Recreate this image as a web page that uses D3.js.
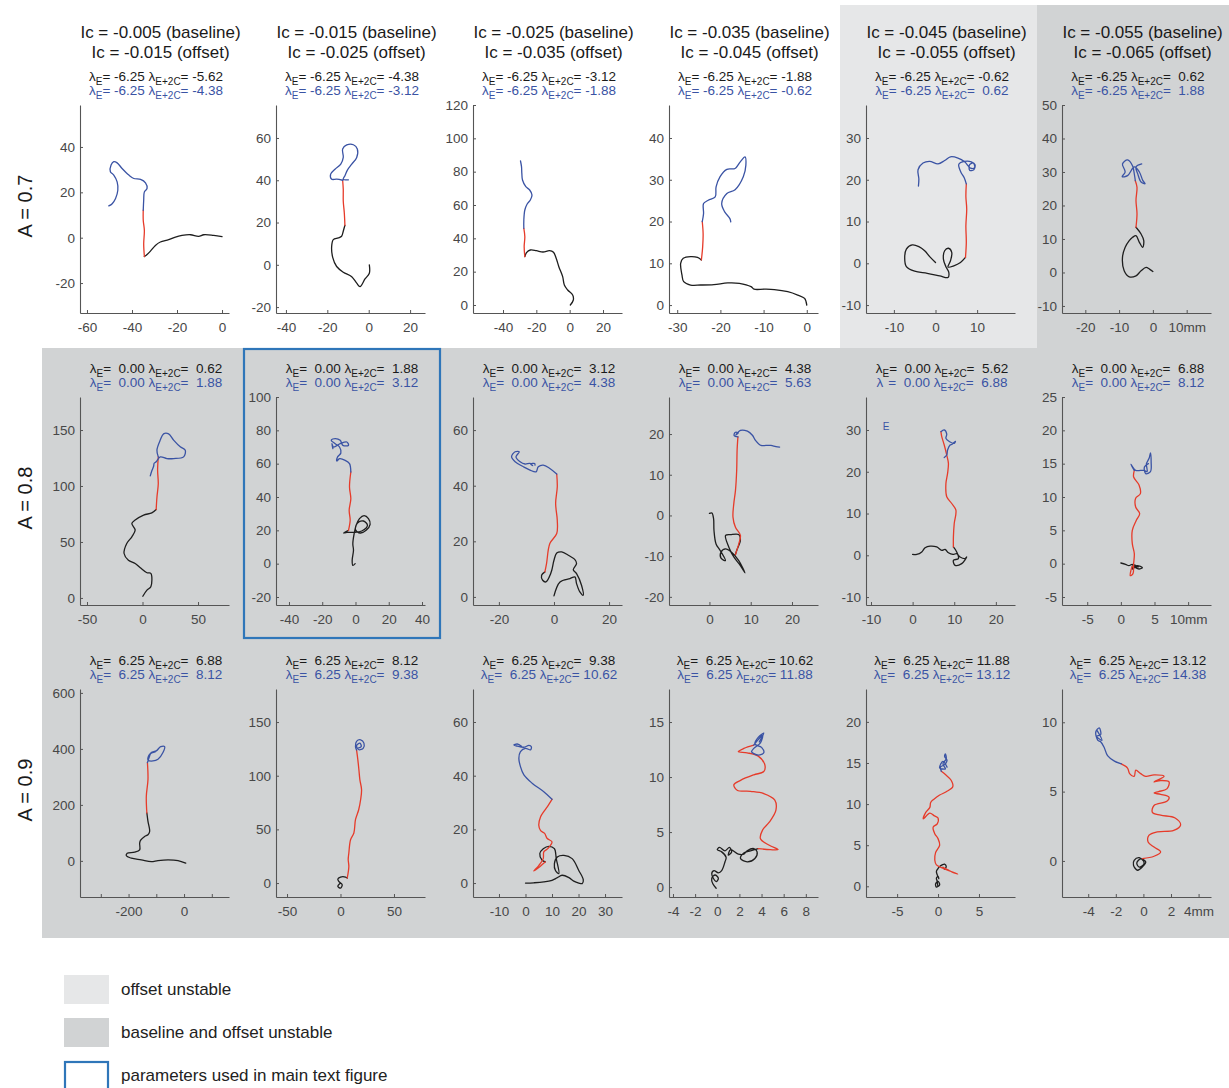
<!DOCTYPE html>
<html>
<head>
<meta charset="utf-8">
<script src="https://d3js.org/d3.v7.min.js"></script>
<style>
  body { margin: 0; background: #fff; }
  text { font-family: "Liberation Sans", Arial, Helvetica, sans-serif; }
</style>
</head>
<body>
<svg id="fig" width="1229" height="1088"></svg>
<script>
// ---- header / label data ----
const icBaseline = ["-0.005", "-0.015", "-0.025", "-0.035", "-0.045", "-0.055"];
const icOffset   = ["-0.015", "-0.025", "-0.035", "-0.045", "-0.055", "-0.065"];
const rowA = ["0.7", "0.8", "0.9"];
const lamE = [-6.25, 0.00, 6.25];
const lamBase = [[-5.62, -4.38, -3.12, -1.88, -0.62, 0.62],
                 [0.62, 1.88, 3.12, 4.38, 5.62, 6.88],
                 [6.88, 8.12, 9.38, 10.62, 11.88, 13.12]];
const lamOff  = [[-4.38, -3.12, -1.88, -0.62, 0.62, 1.88],
                 [1.88, 3.12, 4.38, 5.63, 6.88, 8.12],
                 [8.12, 9.38, 10.62, 11.88, 13.12, 14.38]];
// 0 = stable, 1 = offset unstable, 2 = baseline and offset unstable
const status = [[0, 0, 0, 0, 1, 2], [2, 2, 2, 2, 2, 2], [2, 2, 2, 2, 2, 2]];
const mainPanel = [1, 1];
const legendLabels = ["offset unstable", "baseline and offset unstable", "parameters used in main text figure"];

// ---- axis limits and ticks (mm) ----
const xLims = [[[-63.1, 3.1], [-44.8, 27.2], [-58, 31.4], [-31.9, 2.6], [-16.7, 19.1], [-26.9, 17.2]],
               [[-56.3, 77.9], [-47.8, 41.8], [-29.4, 24.7], [-9.8, 26.3], [-11.2, 24.6], [-8.75, 13.4]],
               [[-375, 162], [-60.3, 79], [-19.8, 36.4], [-4.36, 9.1], [-8.8, 9.4], [-5.9, 4.9]]];
const yLims = [[[-33.2, 58.5], [-22.8, 75.6], [-4.8, 120], [-1.9, 47.9], [-11.9, 37.9], [-12.1, 50]],
               [[-6.3, 179.5], [-24.8, 100], [-2.9, 71.9], [-22, 29.1], [-11.9, 37.9], [-6.2, 25]],
               [[-129, 614], [-13, 180.8], [-5.2, 72.3], [-0.9, 18], [-1.3, 24], [-2.6, 12.4]]];
const xTicks = [[[-60, -40, -20, 0], [-40, -20, 0, 20], [-40, -20, 0, 20], [-30, -20, -10, 0], [-10, 0, 10], [-20, -10, 0, 10]],
                [[-50, 0, 50], [-40, -20, 0, 20, 40], [-20, 0, 20], [0, 10, 20], [-10, 0, 10, 20], [-5, 0, 5, 10]],
                [[-300, -200, -100, 0, 100], [-50, 0, 50], [-10, 0, 10, 20, 30], [-4, -2, 0, 2, 4, 6, 8], [-5, 0, 5], [-4, -2, 0, 2, 4]]];
const xTicksUnlabelled = [-300, -100, 100]; // only in the A = 0.9, first column panel
const yTicks = [[[-20, 0, 20, 40], [-20, 0, 20, 40, 60], [0, 20, 40, 60, 80, 100, 120], [0, 10, 20, 30, 40], [-10, 0, 10, 20, 30], [-10, 0, 10, 20, 30, 40, 50]],
                [[0, 50, 100, 150], [-20, 0, 20, 40, 60, 80, 100], [0, 20, 40, 60], [-20, -10, 0, 10, 20], [-10, 0, 10, 20, 30], [-5, 0, 5, 10, 15, 20, 25]],
                [[0, 200, 400, 600], [0, 50, 100, 150], [0, 20, 40, 60], [0, 5, 10, 15], [0, 5, 10, 15, 20], [0, 5, 10]]];

// ---- trajectories [x, y] in mm: baseline (black), transition (red), offset (blue) ----
const r1c1_k = [[0,0.5],[-3.7,1],[-8.1,1.3],[-10.4,0.6],[-14,1.3],[-17.8,1],[-20.7,0.3],[-23.7,-0.9],[-27.4,-1.9],[-29.6,-3.4],[-31.8,-5.9],[-33.3,-7.4],[-34.5,-8.3]];
const r1c1_r = [[-34.5,-8.3],[-34.8,-2.7],[-34.5,3.2],[-35,7.7],[-35,12.1]];
const r1c1_b = [[-35,12.1],[-34.8,16.5],[-34.5,20.2],[-33.3,21.7],[-34,24.2],[-36.2,25.7],[-39.2,26.1],[-41.4,27.6],[-44.4,30.5],[-46.6,33],[-48.1,33.5],[-49.3,32],[-49.6,29.1],[-48.1,27.6],[-46.6,24.6],[-46.3,20.9],[-47.3,17.3],[-48.8,15],[-50.3,14]];

const r1c2_k = [[0.3,0],[0.3,-4],[-1.8,-6.7],[-4.2,-10.3],[-5.8,-8.7],[-8.2,-5.6],[-12.3,-3.5],[-15.5,-0.8],[-17.4,3.5],[-17.9,8.7],[-17.1,11.9],[-14.7,12.7],[-13.1,13.5],[-12.3,15.9],[-11.5,18.7]];
const r1c2_r = [[-11.5,18.7],[-11.8,24.6],[-12.3,30.2],[-12.3,35.7],[-12.6,40]];
const r1c2_b = [[-12.6,40],[-15.5,40.5],[-17.9,40.5],[-18.4,42.9],[-16.3,45.2],[-13.5,47.6],[-12.3,50.8],[-12.6,54.8],[-10.6,56.7],[-7.4,56.8],[-5.5,54.8],[-5.8,50.8],[-8.2,47.6],[-10.3,44.8],[-11.5,42.1],[-12.3,40.5],[-9.8,40.2]];

const r1c3_k = [[0.4,0],[2.2,3],[1.8,6],[-1.2,9],[-3.2,12],[-4.2,17],[-6.5,23],[-8.1,28],[-9.7,31.6],[-12.1,32.6],[-16,31.8],[-20,32.6],[-23.6,33],[-25.9,31.4],[-26.9,29]];
const r1c3_r = [[-26.9,29],[-27.3,35],[-26.9,41],[-27.5,46]];
const r1c3_b = [[-27.5,46],[-27.5,51],[-26.9,57],[-25.5,60.6],[-23.6,63],[-22.6,66],[-24,69],[-26.3,71],[-28.3,75],[-28.7,79],[-28.9,83],[-29.5,86.4]];

const r1c4_k = [[0,0],[-0.5,1.6],[-2.1,2.4],[-4.4,3.2],[-7.5,3.7],[-9.8,3.8],[-12.2,3.8],[-12.9,4.4],[-15.6,5.2],[-18.3,5.3],[-21.5,4.9],[-24.6,4.8],[-26.9,4.8],[-28.5,5.6],[-28.9,7.2],[-29.2,10],[-28.6,11.2],[-26.9,11.6],[-25.3,11.4],[-24.4,10.8]];
const r1c4_r = [[-24.4,10.8],[-24.1,14],[-24,17.1],[-24.2,20]];
const r1c4_b = [[-24.2,20],[-23.9,21.9],[-23.9,24.3],[-22.8,25.1],[-21.2,25.9],[-21,28.3],[-20.1,30.7],[-18.5,32.5],[-16.6,32.7],[-15.4,34.3],[-14.3,35.5],[-14.1,33.5],[-14.7,30.7],[-16.6,27.6],[-18.5,26.7],[-19.7,24.3],[-19,22.3],[-17.8,20.7],[-17.6,19.9]];

const r1c5_k = [[0,0.2],[-1.4,1.6],[-2.6,3],[-4,4],[-5.6,4.4],[-7,3.4],[-7.4,1.2],[-7,-0.8],[-5,-1.9],[-2,-2.4],[1,-3],[3,-3.4],[3.2,-2.2],[2.5,-0.8],[1.9,1],[2.2,3],[3.1,3.6],[3.9,2.6],[3.6,0.6],[3,-0.9],[4.4,-0.6],[6,0.2],[7.2,1.4]];
const r1c5_r = [[7.2,1.4],[7.4,5],[7.3,9],[7.5,13],[7.3,16],[7.4,19]];
const r1c5_b = [[7.4,19],[6.9,20.5],[6.1,21.8],[5.6,23.7],[7,24.4],[8.6,24.3],[9.5,23.6],[9.2,22.4],[8.2,22.3],[8.2,23.6],[9.1,24],[9.4,22.9],[8.4,22.8],[7,24.3],[5.4,25.2],[3.6,25.5],[2.2,24.6],[0.6,23.8],[-1.4,24.4],[-3,24],[-4.2,22.4],[-4,20.2],[-4.1,18.5]];

const r1c6_k = [[0,0.3],[-1,1],[-2,1.5],[-3.5,0.5],[-5,-1],[-7,-1.3],[-8.5,0.5],[-9,4.5],[-8.2,7.5],[-7,9.5],[-6,10.5],[-5,11],[-4,9],[-3,7.5],[-2.7,9.5],[-3.5,11.5],[-5,13.5]];
const r1c6_r = [[-5,13.5],[-4.7,17.5],[-5,21.5],[-4.7,25.4],[-5.2,27.4]];
const r1c6_b = [[-5.2,27.4],[-5.5,29.4],[-6,31.8],[-7.5,33.6],[-9,32.4],[-8.2,30],[-9.1,28.6],[-7.5,28.9],[-5.5,31.5],[-4,30],[-3,27.5],[-2.3,26.5],[-3.5,27],[-4.5,29.5],[-5,31.5],[-3.3,32.4]];

const r2c1_k = [[0.3,1.5],[4,7],[7.5,10],[7.5,22],[4,22.5],[-2,27],[-6.6,30.8],[-12.7,33.7],[-16.6,39.7],[-14.2,48.7],[-9.6,54.6],[-6.6,60.6],[-9.6,66.6],[-6.6,69.6],[1,74],[8.4,76],[12.3,79]];
const r2c1_r = [[12.3,79],[13,90],[14.2,102],[13.6,114],[14.2,126]];
const r2c1_b = [[14.2,126],[13,132],[16,141],[19,146.6],[23.5,146.6],[28,141],[34,135],[38.5,132],[37,126],[28,124.5],[22,124.5],[16,126],[12.3,121.6],[10.5,120.3],[10,117.6],[8.4,113.6],[7,109]];

const r2c2_k = [[-0.2,0],[-1.6,-1],[-2,2],[-1.2,8],[-1.6,12],[-0.8,18],[0.4,23],[2.4,27],[5.2,28.8],[7.8,27],[8.8,23.6],[6.4,20],[2.8,18.4],[0,20.4],[1.2,24.4],[4.8,25.6],[7.2,23],[3.8,19.6],[-1.2,18.8],[-5.2,18.8],[-7.2,18.4],[-4.2,20]];
const r2c2_r = [[-4.2,20],[-3.2,26],[-3.8,32],[-2.8,39],[-3.6,46],[-2.8,55]];
const r2c2_b = [[-2.8,55],[-3.6,60],[-6.2,62],[-9.6,63],[-11.2,61.6],[-10.8,64],[-8.8,66.4],[-9.6,70],[-12.2,72],[-14.6,74],[-12.2,75],[-9.2,74],[-7.6,71],[-4.2,71],[-5.2,73],[-9.2,72],[-13.2,70],[-14.2,72],[-13.6,69]];

const r2c3_k = [[0,0.4],[2.2,5.4],[5.8,6.6],[7.6,7.2],[8.2,4.8],[9.4,1.8],[10.6,0.6],[10,4.2],[8.2,8.4],[7,9.8],[8.2,12],[7.6,13.4],[5.2,15],[2.8,16.2],[1,15.8],[0,13.2],[-0.8,9.6],[-1.7,7.2],[-2.9,5.4],[-4.1,6],[-4.5,7.8],[-3.3,9]];
const r2c3_r = [[-3.3,9],[-2.7,12],[-1.5,19.2],[1,22.8],[1.2,27.6],[0.6,33.6],[1.2,39.6],[1,44.2]];
const r2c3_b = [[1,44.2],[-1.5,46.2],[-3.9,47.4],[-5.7,46.8],[-6.5,45],[-8.7,45.6],[-11.1,46.8],[-14.1,48.6],[-15.4,50.4],[-14.1,52.2],[-12.6,52.2],[-13.8,50.4],[-12.3,48.6],[-10.5,47.8],[-8.7,48],[-7.7,47.2],[-8.5,47.8],[-7,48],[-6.9,47.4]];

const r2c4_k = [[0,0.5],[0.6,0.6],[1,-0.8],[1.1,-3.7],[1.6,-7],[2.6,-8.6],[3.9,-11.1],[2.8,-10.5],[2.8,-9],[3.9,-8.2],[5.3,-9],[7.1,-11.1],[8.6,-14.1],[7.5,-12.3],[5.9,-10.2],[4.7,-7.8],[3.9,-4.9],[5.1,-4.7],[7.1,-4.7],[7.5,-6.1],[6.6,-8.6],[6.3,-9.6]];
const r2c4_r = [[6.3,-9.6],[7.1,-7],[7.5,-4.9],[6.3,-2.9],[5.7,-0.4],[5.9,2.9],[6.3,6.1],[6.6,11.1],[6.7,16],[6.9,19.3]];
const r2c4_b = [[6.9,19.3],[6,19.6],[6.2,20.4],[7,20.3],[6.4,19.8],[7.5,20.9],[9.2,20.7],[10.4,19.7],[11.2,18.4],[12.5,17.2],[13.7,17.2],[14.9,17.2],[16.1,16.9],[17,16.8]];

const r2c5_k = [[0,0.2],[1,0.2],[2.2,0.8],[3,1.8],[4.2,2.2],[5.8,2],[7,1.2],[7.8,1.4],[8.6,0.6],[9.7,0.2],[10.6,0.4],[11.4,-0.4],[12.6,-0.8],[13,-0.4],[11.8,-2],[10.2,-2.4],[9.8,-1.2],[11,-0.8],[10.6,0.8],[9.8,2]];
const r2c5_r = [[9.8,2],[9.8,4.4],[10,7.6],[10.4,10.8],[9.4,12.4],[8.2,14],[8,17.2],[8.4,19.6],[8.6,22],[8.2,24],[7.6,26.4],[7,28.4],[6.8,29.6]];
const r2c5_b = [[6.8,29.6],[7.6,30],[8.2,29],[8,28],[8.9,27.2],[10,26.8],[10.3,27.3],[9.5,26.6],[9,26.4],[8.4,25.2],[8.2,24],[7.6,23.4]];

const r2c6_k = [[0,0.1],[0.7,-0.1],[1.2,-0.3],[1.7,-0.1],[2.2,-0.6],[2.7,-0.8],[3.2,-0.6],[2.4,-0.3],[1.7,-0.8],[1.9,-0.2],[2.6,-0.5],[1.7,-0.4]];
const r2c6_r = [[1.7,-0.4],[1.5,-1],[1.4,-1.8],[1.8,-1.5],[1.9,0],[2,1.5],[1.7,3],[1.7,5],[2.3,6.5],[2.8,7.5],[2.2,8.5],[2.2,9.8],[2.9,10.5],[2.7,11.8],[1.9,13],[2,14]];
const r2c6_b = [[2,14],[1.7,14.5],[1.5,14.9],[2.2,14],[3.4,14],[3.9,13.8],[3.8,15],[4.2,15.8],[4.4,16.6],[4.5,15.3],[4.4,13.8],[3.7,13.5],[3.5,14.5],[4.1,15]];

const r3c1_k = [[6,-8],[-21.7,1.2],[-57.8,3.6],[-94,1.2],[-118,-2.4],[-154,3.6],[-190,9.6],[-208,18],[-205,27.5],[-178,31],[-160,39.5],[-160,63.5],[-157,73],[-142,87.4],[-130,93.4],[-124,105],[-130,141],[-134,171]];
const r3c1_r = [[-134,171],[-136,231],[-130,291],[-132,351]];
const r3c1_b = [[-132,351],[-124,375],[-118,387],[-100,393],[-84,408],[-70,408],[-76,387],[-94,363],[-112,357],[-130,360],[-124,381],[-104,389]];

const r3c2_k = [[0,0],[-2.5,-3.1],[0,-4.7],[1.6,-1.6],[-1.6,1.6],[-2.5,3.7],[0,5.6],[4.7,5.6],[6.3,4.7]];
const r3c2_r = [[6.3,4.7],[7.8,15.5],[7.2,22],[7.8,28],[9.4,40.4],[12.5,46.6],[14,59],[17,68.3],[18.8,77.6],[19.7,87],[18.1,96.3],[17.2,105.6],[16.2,115],[15,124]];
const r3c2_b = [[15,124],[14,127],[15,132],[18.8,133.5],[21.9,130.4],[21.3,125.8],[17.2,124.2],[15,128],[18.1,130.4],[19.4,127.3],[17,126]];

const r3c3_k = [[0,0],[3.1,0.1],[6.9,0.4],[10,1],[12,2],[13.8,2.9],[16.4,2],[18.2,0.7],[20.1,0],[21.4,-0.2],[21.8,1.2],[20.1,4.7],[17.6,9.1],[14.5,10.3],[12,9.7],[10.9,7.2],[11.3,4.7],[12.6,3.5],[11.6,9.1],[10.9,12.8],[8.8,13.7],[6.7,12.8],[5.4,11],[6.3,8.5],[7.5,7.9]];
const r3c3_r = [[7.5,7.9],[5.5,6.2],[3.1,4.5],[5,6.5],[6.7,9.1],[6.9,11.6],[8.4,12.8],[10,15.3],[8.2,16.6],[7.2,18.5],[5.7,19.5],[5,21.6],[5.7,24.7],[6.9,26.6],[8.2,28.4],[10,31.2]];
const r3c3_b = [[10,31.2],[6.9,34],[2.5,37.2],[-0.6,40.3],[-1.9,43.4],[-2.5,46.5],[-1.9,49],[0,50.2],[1.9,49.6],[2.2,50.8],[1.3,51.3],[-0.6,50.6],[-3.1,51],[-4.4,51.4],[-3.1,51.8],[-1.5,51]];

const r3c4_k = [[-0.1,-0.1],[-0.4,0.3],[-0.5,0.8],[-0.2,1.1],[0.1,0.8],[-0.1,0.5],[-0.5,1.2],[-0.3,1.5],[0.1,1.3],[0.4,1.5],[0.7,2.3],[0.8,2.7],[0.4,3.2],[0,3.4],[0.2,3.6],[0.7,3.3],[1.1,3.6],[1.3,3.2],[1,2.9],[1.2,3.4],[1.9,3],[2.4,3],[2.7,3.3],[3.3,3.5],[3.6,3.2],[3.4,2.6],[2.7,2.3],[2.1,2.6],[2.4,3.1],[3,3.3],[3.7,3.5]];
const r3c4_r = [[3.7,3.5],[4.8,3.4],[5.5,3.4],[4.7,3.8],[3.9,4.4],[4.1,5.2],[4.7,5.9],[5.3,7],[5.2,7.9],[4.2,8.5],[3,8.7],[1.8,8.8],[1.5,9.3],[2.1,9.7],[3.3,10.2],[4.2,10.5],[4.3,11.1],[3.7,11.9],[2.7,12.2],[1.9,12.3],[2.4,12.6],[3.3,12.9]];
const r3c4_b = [[3.3,12.9],[3.7,13.4],[4.1,13.8],[3.9,13.1],[3.3,12.6],[3.1,12.3],[3.7,12],[4.2,12.2],[4,12.7],[3.4,13],[3.7,13.6],[4.2,14],[3.8,13.2]];

const r3c5_k = [[0,0],[-0.2,-0.1],[-0.3,0.3],[0,0.6],[0.2,0.2],[0,0],[-0.1,0.6],[-0.2,1],[0,1.2],[0.1,0.9],[-0.1,1.4],[-0.2,1.8],[-0.05,2.1],[0.2,2.4],[0.5,2.6],[0.8,2.7],[1,2.4],[0.8,2.1],[0.6,2.3]];
const r3c5_r = [[0.6,2.3],[1.2,2],[1.8,1.7],[2.4,1.5],[1.6,1.8],[0.6,2.2],[-0.2,2.6],[-0.4,3.2],[-0.3,4.1],[0.2,5],[0,5.8],[-0.4,6.4],[-0.6,7.2],[-0.1,7.6],[0,8.3],[-0.5,8.6],[-1,8.9],[-1.8,8.2],[-1.5,9],[-1,9.6],[-0.9,10.2],[-0.5,10.6],[0.2,11.1],[1,11.5],[1.8,12.1],[1.6,12.9],[0.9,13.6],[0.4,14]];
const r3c5_b = [[0.4,14],[0.3,14.5],[0.8,14.8],[1.1,15.3],[0.8,15.8],[0.9,16.1],[1,15.5],[0.6,14.9],[0.9,14.3],[0.2,14.4],[0.6,15.2],[1.1,14.5]];

const r3c6_k = [[0,0],[-0.3,0.24],[-0.67,0.05],[-0.72,-0.3],[-0.43,-0.67],[-0.07,-0.43],[0.17,-0.07],[-0.2,0.15],[-0.48,-0.15],[-0.3,-0.45],[0.05,-0.2],[-0.07,0.17]];
const r3c6_r = [[-0.07,0.17],[0.77,0.34],[1.25,0.65],[0.77,1.0],[0.34,1.37],[0.41,1.86],[1.0,2.1],[2.2,2.2],[2.7,2.6],[2.3,3.1],[1.25,3.3],[0.65,3.5],[0.77,4.0],[1.7,4.3],[1.86,4.6],[1.25,4.8],[0.77,4.9],[1.1,5.0],[1.7,5.2],[1.86,5.7],[1.25,5.8],[0.77,5.7],[1.5,6.1],[0.77,6.2],[0.17,6.1],[-0.2,6.3],[-0.55,6.55],[-0.67,6.1],[-1.0,6.3],[-1.15,6.7],[-1.6,7.0]];
const r3c6_b = [[-1.6,7.0],[-2.1,7.2],[-2.6,7.6],[-2.85,8.2],[-3.1,8.6],[-3.3,8.7],[-3.45,9.3],[-3.2,9.6],[-3.1,9.1],[-3.4,9.0],[-3.0,8.7],[-3.35,9.4]];

const traj = [
  [[r1c1_k, r1c1_r, r1c1_b], [r1c2_k, r1c2_r, r1c2_b], [r1c3_k, r1c3_r, r1c3_b], [r1c4_k, r1c4_r, r1c4_b], [r1c5_k, r1c5_r, r1c5_b], [r1c6_k, r1c6_r, r1c6_b]],
  [[r2c1_k, r2c1_r, r2c1_b], [r2c2_k, r2c2_r, r2c2_b], [r2c3_k, r2c3_r, r2c3_b], [r2c4_k, r2c4_r, r2c4_b], [r2c5_k, r2c5_r, r2c5_b], [r2c6_k, r2c6_r, r2c6_b]],
  [[r3c1_k, r3c1_r, r3c1_b], [r3c2_k, r3c2_r, r3c2_b], [r3c3_k, r3c3_r, r3c3_b], [r3c4_k, r3c4_r, r3c4_b], [r3c5_k, r3c5_r, r3c5_b], [r3c6_k, r3c6_r, r3c6_b]]
];

// ---- layout ----
const axLeft = [80, 276, 473, 669, 866, 1062];
const axTop = [105, 397, 689];
const axW = 149, axH = 208;
const colEdges = [42, 242, 440, 640, 840, 1037, 1229];
const rowEdges = [5, 348, 643, 938];
const bgColor = ["none", "#e6e7e8", "#d1d3d4"];
const lineColor = ["#1e1e1e", "#e63b2a", "#3a53a4"];
const blueText = "#3a53a4";

const svg = d3.select("#fig");

// backgrounds of unstable cells
for (let r = 0; r < 3; r++) {
  for (let c = 0; c < 6; c++) {
    if (status[r][c] == 0) continue;
    svg.append("rect")
      .attr("x", colEdges[c]).attr("y", rowEdges[r])
      .attr("width", colEdges[c + 1] - colEdges[c])
      .attr("height", rowEdges[r + 1] - rowEdges[r])
      .attr("fill", bgColor[status[r][c]])
      .attr("shape-rendering", "crispEdges");
  }
}

// frame around main-text parameters
svg.append("rect")
  .attr("x", 244).attr("y", 349).attr("width", 196).attr("height", 289)
  .attr("fill", "none").attr("stroke", "#2f76b9").attr("stroke-width", 2.2);

// column headers
for (let c = 0; c < 6; c++) {
  const cx = axLeft[c] + axW / 2 + 6;
  svg.append("text").attr("x", cx).attr("y", 38).attr("text-anchor", "middle")
    .attr("font-size", 17).attr("fill", "#1a1a1a")
    .text("Ic = " + icBaseline[c] + " (baseline)");
  svg.append("text").attr("x", cx).attr("y", 58).attr("text-anchor", "middle")
    .attr("font-size", 17).attr("fill", "#1a1a1a")
    .text("Ic = " + icOffset[c] + " (offset)");
}

// row labels
for (let r = 0; r < 3; r++) {
  svg.append("text")
    .attr("transform", "translate(32," + (axTop[r] + axH / 2 - 3) + ") rotate(-90)")
    .attr("text-anchor", "middle").attr("font-size", 20).attr("fill", "#1a1a1a")
    .text("A = " + rowA[r]);
}

function fmt(v) { return v.toFixed(2).padStart(6, " "); }

function lambdaLine(x, y, e, e2c, color, dropE) {
  const t = svg.append("text").attr("x", x).attr("y", y)
    .attr("text-anchor", "middle").attr("font-size", 13.5).attr("fill", color)
    .style("white-space", "pre");
  t.append("tspan").text("\u03bb");
  if (dropE) {
    t.append("tspan").attr("dx", 5).text("=" + fmt(e) + " \u03bb");
  } else {
    t.append("tspan").attr("dy", 4).attr("font-size", 10).text("E");
    t.append("tspan").attr("dy", -4).text("=" + fmt(e) + " \u03bb");
  }
  t.append("tspan").attr("dy", 4).attr("font-size", 10).text("E+2C");
  t.append("tspan").attr("dy", -4).text("=" + fmt(e2c));
}

// panels
for (let r = 0; r < 3; r++) {
  for (let c = 0; c < 6; c++) {
    const x0 = axLeft[c], y0 = axTop[r];
    const x = d3.scaleLinear().domain(xLims[r][c]).range([x0, x0 + axW]);
    const y = d3.scaleLinear().domain(yLims[r][c]).range([y0 + axH, y0]);

    const cx = x0 + axW / 2 + 1.5;
    lambdaLine(cx, y0 - 24, lamE[r], lamBase[r][c], "#1a1a1a", false);
    lambdaLine(cx, y0 - 10, lamE[r], lamOff[r][c], blueText, r == 1 && c == 4);

    const last = xTicks[r][c][xTicks[r][c].length - 1];
    const xAxis = d3.axisBottom(x).tickValues(xTicks[r][c])
      .tickSizeInner(-3).tickSizeOuter(0).tickPadding(9)
      .tickFormat(d => {
        if (r == 2 && c == 0 && xTicksUnlabelled.includes(d)) return "";
        return String(d) + (c == 5 && d == last ? "mm" : "");
      });
    const yAxis = d3.axisLeft(y).tickValues(yTicks[r][c])
      .tickSizeInner(-3).tickSizeOuter(0).tickPadding(5)
      .tickFormat(d => String(d));

    const gx = svg.append("g").attr("transform", "translate(0," + (y0 + axH) + ")").call(xAxis);
    const gy = svg.append("g").attr("transform", "translate(" + x0 + ",0)").call(yAxis);
    [gx, gy].forEach(g => {
      g.attr("font-size", 13.5).attr("color", "#555");
      g.select(".domain").attr("stroke-width", 1.1);
      g.selectAll("text").attr("fill", "#474747");
    });

    const line = d3.line().x(d => x(d[0])).y(d => y(d[1])).curve(d3.curveCatmullRom.alpha(0.5));
    traj[r][c].forEach((seg, i) => {
      svg.append("path").datum(seg)
        .attr("d", line).attr("fill", "none")
        .attr("stroke", lineColor[i]).attr("stroke-width", 1.3)
        .attr("stroke-linejoin", "round").attr("stroke-linecap", "round");
    });
  }
}

// stray subscript in the A = 0.8, Ic = -0.045 panel
svg.append("text").attr("x", 886).attr("y", 430).attr("text-anchor", "middle")
  .attr("font-size", 10).attr("fill", blueText).text("E");

// legend
const legY = [975, 1018, 1061];
legendLabels.forEach((lab, i) => {
  if (i < 2) {
    svg.append("rect").attr("x", 64).attr("y", legY[i]).attr("width", 45).attr("height", 29)
      .attr("fill", bgColor[i + 1]);
  } else {
    svg.append("rect").attr("x", 65).attr("y", legY[i] + 1).attr("width", 43).attr("height", 30)
      .attr("fill", "#fff").attr("stroke", "#2f76b9").attr("stroke-width", 2.2);
  }
  svg.append("text").attr("x", 121).attr("y", legY[i] + 20)
    .attr("font-size", 17).attr("fill", "#222").text(lab);
});
</script>
</body>
</html>
